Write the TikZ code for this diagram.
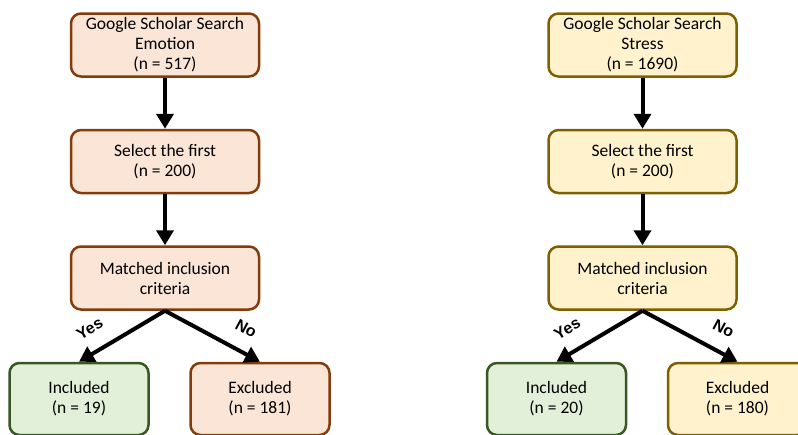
\documentclass[tikz,border=0pt]{standalone}
\usepackage{fontspec}
\setmainfont{Carlito}
\newfontfamily\yesnofont{Liberation Sans}
\usepackage{xcolor}
\usepackage{tikz}
\usetikzlibrary{arrows.meta, positioning}
\definecolor{emoFill}{HTML}{FBE5D6}
\definecolor{emoLine}{HTML}{843C0C}
\definecolor{strFill}{HTML}{FFF2CC}
\definecolor{strLine}{HTML}{7F6000}
\definecolor{incFill}{HTML}{E2F0D9}
\definecolor{incLine}{HTML}{385723}

\begin{document}
\begin{tikzpicture}[
    node distance=51pt and 287pt,
    box/.style={rectangle, line width=2.5pt, rounded corners=10pt, minimum height=63pt, minimum width=188pt, inner ysep=1pt, align=center, font=\fontsize{17.5}{20}\selectfont},
    emo/.style={box, draw=emoLine, fill=emoFill},
    str/.style={box, draw=strLine, fill=strFill},
    leaf/.style={minimum width=139pt, minimum height=72pt},
    inc/.style={box, leaf, draw=incLine, fill=incFill},
    arrow/.style={-{Triangle[width=17pt,length=15pt]}, line width=4pt, black},
    answer/.style={sloped, above=12pt, pos=0.74, font=\yesnofont\bfseries\fontsize{16}{16}\selectfont}
]
\path[use as bounding box, clip] (0,0) rectangle (798pt,-434pt);

% Emotion column
\node[emo] (emoSearch) at (165pt,-45pt) {Google Scholar Search\\Emotion\\(n = 517)};
\node[emo, below=of emoSearch] (emoSelect) {Select the first\\(n = 200)};
\node[emo, below=of emoSelect] (emoMatch) {Matched inclusion\\criteria};
\node[inc, below=of emoMatch, xshift=-86pt] (emoIncl) {Included\\(n = 19)};
\node[emo, leaf, below=of emoMatch, xshift=95pt] (emoExcl) {Excluded\\(n = 181)};

% Stress column
\node[str, right=of emoSearch] (strSearch) {Google Scholar Search\\Stress\\(n = 1690)};
\node[str, below=of strSearch] (strSelect) {Select the first\\(n = 200)};
\node[str, below=of strSelect] (strMatch) {Matched inclusion\\criteria};
\node[inc, below=of strMatch, xshift=-86pt] (strIncl) {Included\\(n = 20)};
\node[str, leaf, below=of strMatch, xshift=95pt] (strExcl) {Excluded\\(n = 180)};

% Edges
\draw[arrow] (emoSearch) -- (emoSelect);
\draw[arrow] (emoSelect) -- (emoMatch);
\draw[arrow] (emoMatch.south) -- node[answer] {Yes} (emoIncl.north);
\draw[arrow] (emoMatch.south) -- node[answer] {No} (emoExcl.north);

\draw[arrow] (strSearch) -- (strSelect);
\draw[arrow] (strSelect) -- (strMatch);
\draw[arrow] (strMatch.south) -- node[answer] {Yes} (strIncl.north);
\draw[arrow] (strMatch.south) -- node[answer] {No} (strExcl.north);

\end{tikzpicture}
\end{document}
